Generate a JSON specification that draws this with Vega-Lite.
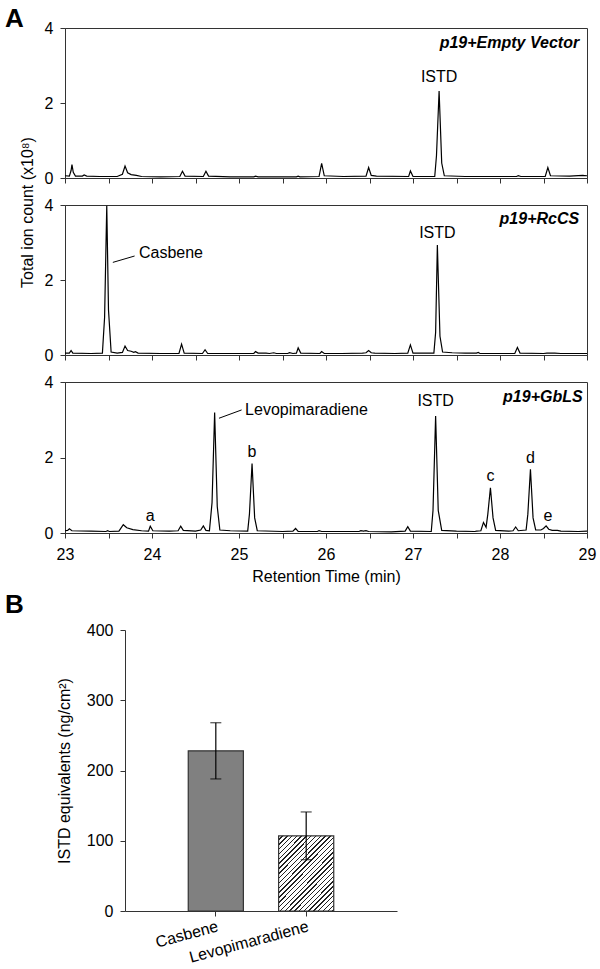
{
  "$schema": "https://vega.github.io/schema/vega-lite/v6.json",
  "background": "white",
  "padding": 5,
  "config": {
    "font": "Liberation Sans",
    "view": {"stroke": "#333", "strokeWidth": 1},
    "axis": {"grid": false, "domainColor": "#333", "tickColor": "#333", "labelColor": "#000", "titleColor": "#000", "labelFontSize": 16, "titleFontSize": 16, "titleFontWeight": "normal", "tickSize": 5, "labelFont": "Liberation Sans", "titleFont": "Liberation Sans", "labelFlush": false},
    "title": {"fontSize": 26, "fontWeight": "bold", "anchor": "start", "font": "Liberation Sans", "color": "#000", "frame": "group"},
    "text": {"font": "Liberation Sans", "fontSize": 16, "color": "#000"}
  },
  "datasets": {
    "ev": [
      {"t":23.00,"y":0.06},{"t":23.05,"y":0.05},{"t":23.07,"y":0.2},{"t":23.08,"y":0.36},{"t":23.095,"y":0.15},{"t":23.12,"y":0.05},
      {"t":23.2,"y":0.05},{"t":23.22,"y":0.08},{"t":23.25,"y":0.05},{"t":23.4,"y":0.04},{"t":23.6,"y":0.04},{"t":23.66,"y":0.1},
      {"t":23.69,"y":0.32},{"t":23.72,"y":0.14},{"t":23.76,"y":0.09},{"t":23.82,"y":0.07},{"t":23.88,"y":0.04},{"t":24.1,"y":0.03},
      {"t":24.32,"y":0.04},{"t":24.35,"y":0.18},{"t":24.38,"y":0.05},{"t":24.59,"y":0.04},{"t":24.62,"y":0.18},{"t":24.65,"y":0.05},
      {"t":24.9,"y":0.03},{"t":25.17,"y":0.03},{"t":25.19,"y":0.05},{"t":25.22,"y":0.03},{"t":25.66,"y":0.03},{"t":25.68,"y":0.05},
      {"t":25.70,"y":0.03},{"t":25.92,"y":0.04},{"t":25.95,"y":0.39},{"t":25.98,"y":0.06},{"t":26.2,"y":0.04},{"t":26.46,"y":0.05},
      {"t":26.49,"y":0.28},{"t":26.52,"y":0.07},{"t":26.58,"y":0.05},{"t":26.95,"y":0.04},{"t":26.97,"y":0.19},{"t":27.0,"y":0.04},
      {"t":27.25,"y":0.04},{"t":27.27,"y":0.6},{"t":27.30,"y":2.32},{"t":27.33,"y":0.4},{"t":27.36,"y":0.06},{"t":27.6,"y":0.04},
      {"t":28.19,"y":0.04},{"t":28.21,"y":0.06},{"t":28.24,"y":0.04},{"t":28.52,"y":0.04},{"t":28.55,"y":0.28},{"t":28.58,"y":0.06},
      {"t":28.8,"y":0.05},{"t":28.95,"y":0.07},{"t":29.0,"y":0.06}
    ],
    "rc": [
      {"t":23.00,"y":0.05},{"t":23.05,"y":0.05},{"t":23.07,"y":0.12},{"t":23.09,"y":0.05},{"t":23.3,"y":0.04},{"t":23.43,"y":0.05},
      {"t":23.455,"y":1.0},{"t":23.48,"y":3.98},{"t":23.50,"y":1.2},{"t":23.53,"y":0.08},{"t":23.6,"y":0.05},{"t":23.66,"y":0.07},
      {"t":23.69,"y":0.24},{"t":23.72,"y":0.12},{"t":23.76,"y":0.1},{"t":23.79,"y":0.07},{"t":23.81,"y":0.09},{"t":23.84,"y":0.05},
      {"t":24.1,"y":0.04},{"t":24.31,"y":0.04},{"t":24.34,"y":0.29},{"t":24.37,"y":0.05},{"t":24.58,"y":0.04},{"t":24.61,"y":0.14},
      {"t":24.64,"y":0.04},{"t":25.0,"y":0.04},{"t":25.17,"y":0.04},{"t":25.19,"y":0.09},{"t":25.22,"y":0.05},{"t":25.31,"y":0.05},
      {"t":25.35,"y":0.04},{"t":25.40,"y":0.06},{"t":25.43,"y":0.04},{"t":25.56,"y":0.04},{"t":25.58,"y":0.06},{"t":25.62,"y":0.04},
      {"t":25.66,"y":0.05},{"t":25.68,"y":0.19},{"t":25.71,"y":0.05},{"t":25.93,"y":0.04},{"t":25.95,"y":0.09},{"t":25.98,"y":0.04},
      {"t":26.18,"y":0.04},{"t":26.42,"y":0.05},{"t":26.46,"y":0.06},{"t":26.49,"y":0.12},{"t":26.52,"y":0.06},{"t":26.56,"y":0.05},
      {"t":26.79,"y":0.04},{"t":26.94,"y":0.05},{"t":26.97,"y":0.27},{"t":27.0,"y":0.05},{"t":27.24,"y":0.05},{"t":27.26,"y":0.6},
      {"t":27.28,"y":2.93},{"t":27.31,"y":0.5},{"t":27.34,"y":0.08},{"t":27.45,"y":0.06},{"t":27.6,"y":0.05},{"t":27.73,"y":0.05},
      {"t":27.75,"y":0.07},{"t":27.77,"y":0.04},{"t":28.17,"y":0.04},{"t":28.20,"y":0.2},{"t":28.23,"y":0.05},{"t":28.5,"y":0.04},
      {"t":28.54,"y":0.05},{"t":28.63,"y":0.05},{"t":28.7,"y":0.04},{"t":29.0,"y":0.04}
    ],
    "gb": [
      {"t":23.00,"y":0.06},{"t":23.03,"y":0.07},{"t":23.05,"y":0.11},{"t":23.08,"y":0.06},{"t":23.3,"y":0.05},{"t":23.47,"y":0.04},
      {"t":23.49,"y":0.06},{"t":23.51,"y":0.04},{"t":23.62,"y":0.05},{"t":23.67,"y":0.22},{"t":23.71,"y":0.14},{"t":23.78,"y":0.09},
      {"t":23.88,"y":0.06},{"t":23.96,"y":0.05},{"t":23.98,"y":0.18},{"t":24.01,"y":0.06},{"t":24.2,"y":0.05},{"t":24.3,"y":0.06},
      {"t":24.33,"y":0.18},{"t":24.36,"y":0.07},{"t":24.5,"y":0.05},{"t":24.56,"y":0.08},{"t":24.59,"y":0.19},{"t":24.62,"y":0.07},
      {"t":24.66,"y":0.06},{"t":24.69,"y":0.8},{"t":24.72,"y":3.19},{"t":24.75,"y":0.7},{"t":24.78,"y":0.08},{"t":24.9,"y":0.06},
      {"t":25.1,"y":0.05},{"t":25.12,"y":0.5},{"t":25.15,"y":1.84},{"t":25.18,"y":0.4},{"t":25.21,"y":0.06},{"t":25.5,"y":0.04},
      {"t":25.62,"y":0.05},{"t":25.65,"y":0.12},{"t":25.68,"y":0.04},{"t":25.9,"y":0.04},{"t":25.92,"y":0.06},{"t":25.95,"y":0.04},
      {"t":26.38,"y":0.04},{"t":26.4,"y":0.06},{"t":26.43,"y":0.05},{"t":26.46,"y":0.06},{"t":26.49,"y":0.04},{"t":26.75,"y":0.03},
      {"t":26.91,"y":0.05},{"t":26.94,"y":0.17},{"t":26.97,"y":0.05},{"t":27.21,"y":0.04},{"t":27.23,"y":0.6},{"t":27.26,"y":3.1},
      {"t":27.29,"y":0.6},{"t":27.33,"y":0.07},{"t":27.5,"y":0.05},{"t":27.71,"y":0.04},{"t":27.73,"y":0.05},{"t":27.78,"y":0.06},
      {"t":27.81,"y":0.28},{"t":27.84,"y":0.15},{"t":27.86,"y":0.5},{"t":27.89,"y":1.2},{"t":27.92,"y":0.4},{"t":27.95,"y":0.07},
      {"t":28.1,"y":0.05},{"t":28.15,"y":0.06},{"t":28.18,"y":0.16},{"t":28.21,"y":0.06},{"t":28.30,"y":0.08},{"t":28.32,"y":0.5},
      {"t":28.35,"y":1.69},{"t":28.38,"y":0.4},{"t":28.41,"y":0.08},{"t":28.47,"y":0.08},{"t":28.50,"y":0.12},{"t":28.53,"y":0.19},
      {"t":28.56,"y":0.1},{"t":28.6,"y":0.07},{"t":28.66,"y":0.07},{"t":28.7,"y":0.05},{"t":28.9,"y":0.04},{"t":29.0,"y":0.05}
    ],
    "bars": [
      {"compound":"Casbene","value":228,"lo":188,"hi":268},
      {"compound":"Levopimaradiene","value":107,"lo":73,"hi":141}
    ]
  },
  "spacing": 7,
  "vconcat": [
    {
      "title": {"text": "A", "dx": -60, "offset": -12},
      "bounds": "flush",
      "spacing": 27,
      "vconcat": [
        {
          "width": 522, "height": 150,
          "layer": [
            {"data": {"name": "ev"}, "mark": {"type": "line", "color": "#000", "strokeWidth": 1.2, "clip": true},
             "encoding": {
               "x": {"field": "t", "type": "quantitative", "scale": {"domain": [23, 29], "nice": false, "zero": false},
                     "axis": {"values": [23,23.5,24,24.5,25,25.5,26,26.5,27,27.5,28,28.5,29], "labels": false, "title": null}},
               "y": {"field": "y", "type": "quantitative", "scale": {"domain": [0, 4], "nice": false},
                     "axis": {"values": [0,1,2,3,4], "labelExpr": "datum.value % 2 === 0 ? datum.label : ''", "labelPadding": 7, "title": null}}
             }},
            {"data": {"values": [{"t": 27.3, "y": 2.69, "label": "ISTD"}]}, "mark": {"type": "text", "baseline": "middle", "align": "center"},
             "encoding": {"x": {"field": "t", "type": "quantitative"}, "y": {"field": "y", "type": "quantitative"}, "text": {"field": "label"}}},
            {"data": {"values": [{"t": 28.91, "y": 3.6, "label": "p19+Empty Vector"}]}, "mark": {"type": "text", "baseline": "middle", "align": "right", "fontWeight": "bold", "fontStyle": "italic"},
             "encoding": {"x": {"field": "t", "type": "quantitative"}, "y": {"field": "y", "type": "quantitative"}, "text": {"field": "label"}}}
          ]
        },
        {
          "width": 522, "height": 150,
          "layer": [
            {"data": {"name": "rc"}, "mark": {"type": "line", "color": "#000", "strokeWidth": 1.2, "clip": true},
             "encoding": {
               "x": {"field": "t", "type": "quantitative", "scale": {"domain": [23, 29], "nice": false, "zero": false},
                     "axis": {"values": [23,23.5,24,24.5,25,25.5,26,26.5,27,27.5,28,28.5,29], "labels": false, "title": null}},
               "y": {"field": "y", "type": "quantitative", "scale": {"domain": [0, 4], "nice": false},
                     "axis": {"values": [0,1,2,3,4], "labelExpr": "datum.value % 2 === 0 ? datum.label : ''", "labelPadding": 7, "title": "Total ion count (x10⁸)", "titleY": 7, "titlePadding": 9}}
             }},
            {"data": {"values": [{"t": 23.55, "y": 2.47, "t2": 23.80, "y2": 2.64}]}, "mark": {"type": "rule", "color": "#000", "strokeWidth": 1},
             "encoding": {"x": {"field": "t", "type": "quantitative"}, "y": {"field": "y", "type": "quantitative"}, "x2": {"field": "t2"}, "y2": {"field": "y2"}}},
            {"data": {"values": [{"t": 27.28, "y": 3.26, "label": "ISTD"}]}, "mark": {"type": "text", "baseline": "middle", "align": "center"},
             "encoding": {"x": {"field": "t", "type": "quantitative"}, "y": {"field": "y", "type": "quantitative"}, "text": {"field": "label"}}},
            {"data": {"values": [{"t": 23.85, "y": 2.71, "label": "Casbene"}]}, "mark": {"type": "text", "baseline": "middle", "align": "left"},
             "encoding": {"x": {"field": "t", "type": "quantitative"}, "y": {"field": "y", "type": "quantitative"}, "text": {"field": "label"}}},
            {"data": {"values": [{"t": 28.91, "y": 3.62, "label": "p19+RcCS"}]}, "mark": {"type": "text", "baseline": "middle", "align": "right", "fontWeight": "bold", "fontStyle": "italic"},
             "encoding": {"x": {"field": "t", "type": "quantitative"}, "y": {"field": "y", "type": "quantitative"}, "text": {"field": "label"}}}
          ]
        },
        {
          "width": 522, "height": 151,
          "layer": [
            {"data": {"name": "gb"}, "mark": {"type": "line", "color": "#000", "strokeWidth": 1.2, "clip": true},
             "encoding": {
               "x": {"field": "t", "type": "quantitative", "scale": {"domain": [23, 29], "nice": false, "zero": false},
                     "axis": {"values": [23,23.5,24,24.5,25,25.5,26,26.5,27,27.5,28,28.5,29], "labelExpr": "datum.value % 1 === 0 ? format(datum.value, 'd') : ''", "labelPadding": 8, "title": "Retention Time (min)", "titlePadding": 6}},
               "y": {"field": "y", "type": "quantitative", "scale": {"domain": [0, 4], "nice": false},
                     "axis": {"values": [0,1,2,3,4], "labelExpr": "datum.value % 2 === 0 ? datum.label : ''", "labelPadding": 7, "title": null}}
             }},
            {"data": {"values": [{"t": 24.77, "y": 3.04, "t2": 25.03, "y2": 3.26}]}, "mark": {"type": "rule", "color": "#000", "strokeWidth": 1},
             "encoding": {"x": {"field": "t", "type": "quantitative"}, "y": {"field": "y", "type": "quantitative"}, "x2": {"field": "t2"}, "y2": {"field": "y2"}}},
            {"data": {"values": [
                {"t": 27.26, "y": 3.49, "label": "ISTD"},
                {"t": 23.98, "y": 0.44, "label": "a"},
                {"t": 25.15, "y": 2.15, "label": "b"},
                {"t": 27.89, "y": 1.52, "label": "c"},
                {"t": 28.35, "y": 1.98, "label": "d"},
                {"t": 28.55, "y": 0.45, "label": "e"}
              ]}, "mark": {"type": "text", "baseline": "middle", "align": "center"},
             "encoding": {"x": {"field": "t", "type": "quantitative"}, "y": {"field": "y", "type": "quantitative"}, "text": {"field": "label"}}},
            {"data": {"values": [{"t": 25.07, "y": 3.27, "label": "Levopimaradiene"}]}, "mark": {"type": "text", "baseline": "middle", "align": "left"},
             "encoding": {"x": {"field": "t", "type": "quantitative"}, "y": {"field": "y", "type": "quantitative"}, "text": {"field": "label"}}},
            {"data": {"values": [{"t": 28.95, "y": 3.6, "label": "p19+GbLS"}]}, "mark": {"type": "text", "baseline": "middle", "align": "right", "fontWeight": "bold", "fontStyle": "italic"},
             "encoding": {"x": {"field": "t", "type": "quantitative"}, "y": {"field": "y", "type": "quantitative"}, "text": {"field": "label"}}}
          ]
        }
      ]
    },
    {
      "title": {"text": "B", "dx": -60, "offset": 4},
      "width": 332, "height": 281,
      "view": {"stroke": null},
      "data": {"name": "bars"},
      "encoding": {
        "x": {"field": "compound", "type": "nominal", "sort": null,
              "scale": {"domain": ["Casbene", "Levopimaradiene"], "range": [60, 332], "paddingInner": 0.39, "paddingOuter": 0.7},
              "axis": {"title": null, "labelAngle": -15, "labelAlign": "right", "labelBaseline": "top", "labelPadding": 2, "tickSize": 5}}
      },
      "layer": [
        {"transform": [{"filter": "datum.compound === 'Casbene'"}],
         "mark": {"type": "bar", "fill": "#808080", "stroke": "#333", "strokeWidth": 1.2},
         "encoding": {"y": {"field": "value", "type": "quantitative", "scale": {"domain": [0, 400], "nice": false},
            "axis": {"values": [0,50,100,150,200,250,300,350,400], "labelExpr": "datum.value % 100 === 0 ? datum.label : ''", "title": "ISTD equivalents (ng/cm²)", "offset": -60, "labelPadding": 7, "titlePadding": 14}}}},
        {"transform": [{"filter": "datum.compound === 'Levopimaradiene'"}],
         "mark": {"type": "bar", "stroke": "#333", "strokeWidth": 1.2,
           "fill": {"gradient": "linear", "x1": 0, "y1": 0, "x2": 0.83, "y2": 1.12, "stops": [
             {"offset":0,"color":"#fff"},{"offset":0.0259,"color":"#fff"},{"offset":0.0259,"color":"#222"},{"offset":0.0370,"color":"#222"},
             {"offset":0.0370,"color":"#fff"},{"offset":0.0630,"color":"#fff"},{"offset":0.0630,"color":"#222"},{"offset":0.0741,"color":"#222"},
             {"offset":0.0741,"color":"#fff"},{"offset":0.1000,"color":"#fff"},{"offset":0.1000,"color":"#222"},{"offset":0.1111,"color":"#222"},
             {"offset":0.1111,"color":"#fff"},{"offset":0.1370,"color":"#fff"},{"offset":0.1370,"color":"#222"},{"offset":0.1481,"color":"#222"},
             {"offset":0.1481,"color":"#fff"},{"offset":0.1741,"color":"#fff"},{"offset":0.1741,"color":"#222"},{"offset":0.1852,"color":"#222"},
             {"offset":0.1852,"color":"#fff"},{"offset":0.2111,"color":"#fff"},{"offset":0.2111,"color":"#222"},{"offset":0.2222,"color":"#222"},
             {"offset":0.2222,"color":"#fff"},{"offset":0.2481,"color":"#fff"},{"offset":0.2481,"color":"#222"},{"offset":0.2593,"color":"#222"},
             {"offset":0.2593,"color":"#fff"},{"offset":0.2852,"color":"#fff"},{"offset":0.2852,"color":"#222"},{"offset":0.2963,"color":"#222"},
             {"offset":0.2963,"color":"#fff"},{"offset":0.3222,"color":"#fff"},{"offset":0.3222,"color":"#222"},{"offset":0.3333,"color":"#222"},
             {"offset":0.3333,"color":"#fff"},{"offset":0.3593,"color":"#fff"},{"offset":0.3593,"color":"#222"},{"offset":0.3704,"color":"#222"},
             {"offset":0.3704,"color":"#fff"},{"offset":0.3963,"color":"#fff"},{"offset":0.3963,"color":"#222"},{"offset":0.4074,"color":"#222"},
             {"offset":0.4074,"color":"#fff"},{"offset":0.4333,"color":"#fff"},{"offset":0.4333,"color":"#222"},{"offset":0.4444,"color":"#222"},
             {"offset":0.4444,"color":"#fff"},{"offset":0.4704,"color":"#fff"},{"offset":0.4704,"color":"#222"},{"offset":0.4815,"color":"#222"},
             {"offset":0.4815,"color":"#fff"},{"offset":0.5074,"color":"#fff"},{"offset":0.5074,"color":"#222"},{"offset":0.5185,"color":"#222"},
             {"offset":0.5185,"color":"#fff"},{"offset":0.5444,"color":"#fff"},{"offset":0.5444,"color":"#222"},{"offset":0.5556,"color":"#222"},
             {"offset":0.5556,"color":"#fff"},{"offset":0.5815,"color":"#fff"},{"offset":0.5815,"color":"#222"},{"offset":0.5926,"color":"#222"},
             {"offset":0.5926,"color":"#fff"},{"offset":0.6185,"color":"#fff"},{"offset":0.6185,"color":"#222"},{"offset":0.6296,"color":"#222"},
             {"offset":0.6296,"color":"#fff"},{"offset":0.6556,"color":"#fff"},{"offset":0.6556,"color":"#222"},{"offset":0.6667,"color":"#222"},
             {"offset":0.6667,"color":"#fff"},{"offset":0.6926,"color":"#fff"},{"offset":0.6926,"color":"#222"},{"offset":0.7037,"color":"#222"},
             {"offset":0.7037,"color":"#fff"},{"offset":0.7296,"color":"#fff"},{"offset":0.7296,"color":"#222"},{"offset":0.7407,"color":"#222"},
             {"offset":0.7407,"color":"#fff"},{"offset":0.7667,"color":"#fff"},{"offset":0.7667,"color":"#222"},{"offset":0.7778,"color":"#222"},
             {"offset":0.7778,"color":"#fff"},{"offset":0.8037,"color":"#fff"},{"offset":0.8037,"color":"#222"},{"offset":0.8148,"color":"#222"},
             {"offset":0.8148,"color":"#fff"},{"offset":0.8407,"color":"#fff"},{"offset":0.8407,"color":"#222"},{"offset":0.8519,"color":"#222"},
             {"offset":0.8519,"color":"#fff"},{"offset":0.8778,"color":"#fff"},{"offset":0.8778,"color":"#222"},{"offset":0.8889,"color":"#222"},
             {"offset":0.8889,"color":"#fff"},{"offset":0.9148,"color":"#fff"},{"offset":0.9148,"color":"#222"},{"offset":0.9259,"color":"#222"},
             {"offset":0.9259,"color":"#fff"},{"offset":0.9519,"color":"#fff"},{"offset":0.9519,"color":"#222"},{"offset":0.9630,"color":"#222"},
             {"offset":0.9630,"color":"#fff"},{"offset":0.9889,"color":"#fff"},{"offset":0.9889,"color":"#222"},{"offset":1,"color":"#222"}
           ]}},
         "encoding": {"y": {"field": "value", "type": "quantitative"}}},
        {"mark": {"type": "rule", "color": "#000", "strokeWidth": 1.2},
         "encoding": {"y": {"field": "lo", "type": "quantitative"}, "y2": {"field": "hi"}}},
        {"mark": {"type": "tick", "color": "#000", "size": 11, "thickness": 1.2},
         "encoding": {"y": {"field": "lo", "type": "quantitative"}}},
        {"mark": {"type": "tick", "color": "#000", "size": 11, "thickness": 1.2},
         "encoding": {"y": {"field": "hi", "type": "quantitative"}}}
      ]
    }
  ]
}
